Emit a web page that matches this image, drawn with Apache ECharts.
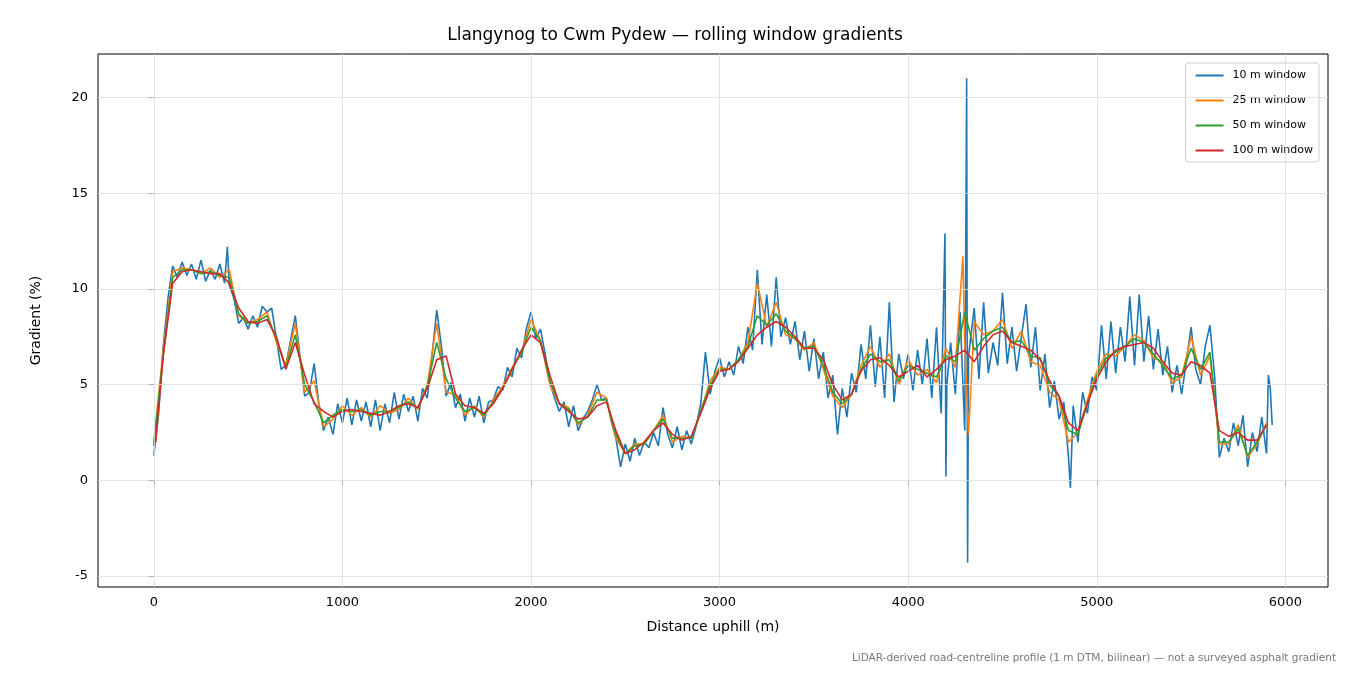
<!DOCTYPE html>
<html>
<head>
<meta charset="utf-8">
<script src="https://cdn.jsdelivr.net/npm/echarts@6/dist/echarts.min.js"></script>
<style>html,body{margin:0;padding:0;background:#fff}#chart{width:1350px;height:675px}</style>
</head>
<body>
<div id="chart"></div>
<script>
// 10 m window (noisy)
const dist10 = [0,25,50,75,100,125,150,175,200,225,250,275,300,325,350,375,390,400,425,450,475,500,525,550,575,600,625,650,675,700,725,750,775,800,825,850,875,900,925,950,975,1000,1025,1050,1075,1100,1125,1150,1175,1200,1225,1250,1275,1300,1325,1350,1375,1400,1425,1450,1475,1500,1525,1550,1575,1600,1625,1650,1675,1700,1725,1750,1775,1800,1825,1850,1875,1900,1925,1950,1975,2000,2025,2050,2075,2100,2125,2150,2175,2200,2225,2250,2275,2300,2325,2350,2375,2400,2425,2450,2475,2500,2525,2550,2575,2600,2625,2650,2675,2700,2725,2750,2775,2800,2825,2850,2875,2900,2925,2950,2975,3000,3025,3050,3075,3100,3125,3150,3175,3200,3225,3250,3275,3300,3325,3350,3375,3400,3425,3450,3475,3500,3525,3550,3575,3600,3625,3650,3675,3700,3725,3750,3775,3800,3825,3850,3875,3900,3925,3950,3975,4000,4025,4050,4075,4100,4125,4150,4175,4195,4200,4205,4225,4250,4275,4300,4310,4315,4320,4350,4375,4400,4425,4450,4475,4500,4525,4550,4575,4600,4625,4650,4675,4700,4725,4750,4775,4800,4825,4850,4860,4875,4900,4925,4950,4975,5000,5025,5050,5075,5100,5125,5150,5175,5200,5225,5250,5275,5300,5325,5350,5375,5400,5425,5450,5475,5500,5525,5550,5575,5600,5625,5650,5675,5700,5725,5750,5775,5800,5825,5850,5875,5900,5910,5920,5930];
const grad10 = [1.3,3.5,7,9.5,11.2,10.6,11.4,10.7,11.3,10.5,11.5,10.4,11.0,10.5,11.3,10.3,12.2,10.2,9.5,8.2,8.5,7.9,8.6,8.0,9.1,8.8,9.0,7.4,5.8,6.0,7.3,8.6,6.5,4.4,4.6,6.1,4.0,2.6,3.3,2.4,4.0,3.0,4.3,2.9,4.2,3.1,4.1,2.8,4.2,2.6,4.0,3.0,4.6,3.2,4.5,3.6,4.4,3.1,4.8,4.3,6.5,8.9,7.0,4.4,5.1,3.8,4.5,3.1,4.3,3.3,4.4,3.0,4.1,4.2,4.9,4.7,5.9,5.4,6.9,6.4,7.9,8.8,7.4,7.9,6.6,5.1,4.3,3.6,4.1,2.8,3.9,2.6,3.2,3.6,4.2,5.0,4.2,4.3,3.1,2.2,0.7,1.9,1.0,2.2,1.3,2.0,1.7,2.5,1.8,3.8,2.4,1.7,2.8,1.6,2.6,1.9,2.8,4.0,6.7,4.5,5.7,6.4,5.4,6.2,5.5,7.0,6.1,8.0,6.8,11.0,7.1,9.7,7.0,10.6,7.5,8.5,7.1,8.3,6.3,7.8,5.7,7.4,5.3,6.7,4.3,5.5,2.4,4.8,3.3,5.6,4.6,7.1,5.3,8.1,4.9,7.5,4.3,9.3,4.1,6.6,5.3,6.6,4.7,6.8,5.0,7.4,4.3,8.0,3.5,12.9,0.2,5.0,7.2,4.5,8.8,2.6,21.0,-4.3,6.5,9.0,5.3,9.3,5.6,7.2,6.0,9.8,6.1,8.0,5.7,7.5,9.2,5.9,8.0,4.7,6.6,3.8,5.2,3.2,4.1,1.2,-0.4,3.9,2.0,4.6,3.5,5.4,4.7,8.1,5.3,8.3,5.6,8.0,6.2,9.6,6.0,9.7,6.2,8.6,5.8,7.9,5.5,7.0,4.6,6.0,4.5,6.2,8.0,5.8,5.0,7.0,8.1,5.4,1.2,2.2,1.5,3.0,1.8,3.4,0.7,2.5,1.5,3.3,1.4,5.5,4.8,2.9];

// 25 m window
const dist25 = [0,50,100,150,200,250,300,350,400,450,500,550,600,650,700,750,800,850,900,950,1000,1050,1100,1150,1200,1250,1300,1350,1400,1450,1500,1550,1600,1650,1700,1750,1800,1850,1900,1950,2000,2050,2100,2150,2200,2250,2300,2350,2400,2450,2500,2550,2600,2650,2700,2750,2800,2850,2900,2950,3000,3050,3100,3150,3200,3250,3300,3350,3400,3450,3500,3550,3600,3650,3700,3750,3800,3850,3900,3950,4000,4050,4100,4150,4200,4250,4290,4300,4320,4350,4400,4450,4500,4550,4600,4650,4700,4750,4800,4850,4900,4950,5000,5050,5100,5150,5200,5250,5300,5350,5400,5450,5500,5550,5600,5650,5700,5750,5800,5850,5900];
const grad25 = [2.0,6.8,10.9,11.1,11.0,10.8,11.1,10.6,11.0,8.6,8.2,8.4,8.8,7.2,6.0,8.2,4.6,5.2,2.8,3.2,3.9,3.4,3.8,3.3,3.9,3.5,3.7,4.3,3.7,5.0,8.2,4.6,4.5,3.4,3.9,3.3,4.2,4.9,5.9,6.7,8.4,7.3,5.0,4.0,3.8,2.9,3.4,4.6,4.3,2.2,1.4,1.9,1.9,2.6,3.4,2.0,2.3,2.2,3.6,5.2,5.9,5.8,6.3,7.2,10.3,8.0,9.3,7.6,7.4,6.8,7.2,5.8,4.4,3.8,4.5,6.0,7.0,5.9,6.6,5.0,6.3,5.5,5.8,5.1,6.9,5.9,11.7,7.0,2.4,8.3,7.6,7.8,8.4,6.9,7.8,6.2,6.0,4.6,4.2,2.0,2.5,4.2,5.7,6.6,6.5,7.0,7.6,7.3,6.4,6.2,5.1,5.4,7.5,5.5,6.5,1.9,1.9,2.9,1.2,1.9,3.0];

// 50 m window
const dist50 = [0,50,100,150,200,250,300,350,400,450,500,550,600,650,700,750,800,850,900,950,1000,1050,1100,1150,1200,1250,1300,1350,1400,1450,1500,1550,1600,1650,1700,1750,1800,1850,1900,1950,2000,2050,2100,2150,2200,2250,2300,2350,2400,2450,2500,2550,2600,2650,2700,2750,2800,2850,2900,2950,3000,3050,3100,3150,3200,3250,3300,3350,3400,3450,3500,3550,3600,3650,3700,3750,3800,3850,3900,3950,4000,4050,4100,4150,4200,4250,4300,4350,4400,4450,4500,4550,4600,4650,4700,4750,4800,4850,4900,4950,5000,5050,5100,5150,5200,5250,5300,5350,5400,5450,5500,5550,5600,5650,5700,5750,5800,5850,5900];
const grad50 = [1.8,6.6,10.6,11.0,11.0,10.8,10.9,10.7,10.6,8.7,8.2,8.3,8.6,7.4,5.9,7.6,5.0,4.1,3.0,3.4,3.7,3.6,3.7,3.4,3.6,3.6,3.8,4.1,3.8,4.9,7.2,5.3,4.3,3.6,3.8,3.4,4.1,4.8,5.8,6.7,8.0,7.3,5.2,4.0,3.7,3.0,3.3,4.2,4.2,2.4,1.4,1.8,1.9,2.6,3.2,2.2,2.2,2.2,3.6,5.0,5.8,5.8,6.3,7.0,8.6,8.1,8.7,7.8,7.4,6.9,7.0,6.0,4.6,4.0,4.5,5.8,6.6,6.2,6.3,5.2,6.0,5.8,5.6,5.4,6.5,6.2,8.8,6.8,7.4,7.8,8.0,7.2,7.3,6.5,6.4,5.0,4.4,2.6,2.4,4.0,5.5,6.4,6.7,7.0,7.4,7.2,6.6,6.0,5.3,5.5,6.9,5.8,6.7,2.0,2.0,2.7,1.3,2.0,2.9];

// 100 m window
const dist100 = [10,50,100,150,200,250,300,350,400,450,500,550,600,650,700,750,800,850,900,950,1000,1050,1100,1150,1200,1250,1300,1350,1400,1450,1500,1550,1600,1650,1700,1750,1800,1850,1900,1950,2000,2050,2100,2150,2200,2250,2300,2350,2400,2450,2500,2550,2600,2650,2700,2750,2800,2850,2900,2950,3000,3050,3100,3150,3200,3250,3300,3350,3400,3450,3500,3550,3600,3650,3700,3750,3800,3850,3900,3950,4000,4050,4100,4150,4200,4250,4300,4350,4400,4450,4500,4550,4600,4650,4700,4750,4800,4850,4900,4950,5000,5050,5100,5150,5200,5250,5300,5350,5400,5450,5500,5550,5600,5650,5700,5750,5800,5850,5900];
const grad100 = [2.0,6.5,10.3,10.9,11.0,10.9,10.8,10.8,10.3,9.0,8.3,8.2,8.4,7.5,5.8,7.2,5.5,4.0,3.6,3.3,3.6,3.7,3.6,3.5,3.4,3.6,3.9,4.0,3.8,4.8,6.3,6.5,4.5,3.9,3.8,3.5,4.0,4.8,5.8,6.8,7.6,7.2,5.5,4.0,3.6,3.2,3.3,3.9,4.1,2.6,1.4,1.6,2.0,2.6,3.0,2.4,2.1,2.3,3.5,4.8,5.7,5.8,6.2,6.9,7.6,8.0,8.3,8.0,7.5,6.9,6.9,6.3,5.0,4.2,4.5,5.7,6.3,6.4,6.0,5.4,5.7,6.0,5.4,5.8,6.3,6.5,6.8,6.2,7.0,7.6,7.8,7.2,7.0,6.8,6.3,5.2,4.4,3.0,2.6,4.0,5.3,6.2,6.8,7.0,7.1,7.2,6.9,6.2,5.6,5.5,6.2,6.0,5.6,2.6,2.3,2.5,2.1,2.1,2.9];

const xTicks = [0, 1000, 2000, 3000, 4000, 5000, 6000];
const yTicks = [-5, 0, 5, 10, 15, 20];

const pairs = (xs, ys) => xs.map((x, i) => [x, ys[i]]);
const font = 'DejaVu Sans';

const chart = echarts.init(document.getElementById('chart'));

function lineSeries(name, color, data) {
    return {
        name: name,
        type: 'line',
        data: data,
        showSymbol: false,
        symbol: 'none',
        lineStyle: { color: color, width: 1.6 },
        itemStyle: { color: color },
        z: 3
    };
}

// 网格线用 markLine 画，刻度由 customValues 指定
const gridLines = {
    type: 'line',
    data: [],
    silent: true,
    markLine: {
        silent: true,
        symbol: 'none',
        label: { show: false },
        lineStyle: { color: '#dcdcdc', type: 'solid', width: 0.8 },
        data: xTicks.map(v => ({ xAxis: v })).concat(yTicks.map(v => ({ yAxis: v })))
    },
    z: 1
};

chart.setOption({
    animation: false,
    backgroundColor: '#fff',
    title: {
        text: 'Llangynog to Cwm Pydew — rolling window gradients',
        left: 'center',
        top: 22,
        textStyle: { fontFamily: font, fontSize: 17, fontWeight: 'normal', color: '#000' }
    },
    graphic: [{
        type: 'text',
        right: 14,
        top: 653,
        style: {
            text: 'LiDAR-derived road-centreline profile (1 m DTM, bilinear) — not a surveyed asphalt gradient',
            fill: '#777',
            font: '10.5px DejaVu Sans'
        }
    }],
    legend: {
        orient: 'vertical',
        right: 31,
        top: 63,
        data: ['10 m window', '25 m window', '50 m window', '100 m window'],
        icon: 'rect',
        itemWidth: 28,
        itemHeight: 2,
        itemGap: 14,
        padding: [7, 6, 6, 10],
        borderColor: '#ccc',
        borderWidth: 1,
        borderRadius: 3,
        backgroundColor: '#fff',
        textStyle: { fontFamily: font, fontSize: 11, color: '#000', padding: [0, 0, 0, 4] }
    },
    grid: {
        left: 98, right: 22, top: 54, bottom: 88,
        show: true, borderColor: '#000', borderWidth: 1
    },
    xAxis: {
        type: 'value',
        min: -296, max: 6226,
        name: 'Distance uphill (m)',
        nameLocation: 'middle',
        nameGap: 33,
        nameTextStyle: { fontFamily: font, fontSize: 14, color: '#000' },
        axisLine: { show: false },
        axisTick: { show: true, customValues: xTicks, length: 5, lineStyle: { color: '#000' } },
        axisLabel: { customValues: xTicks, formatter: v => String(v), fontFamily: font, fontSize: 13, color: '#000', margin: 9 },
        splitLine: { show: false }
    },
    yAxis: {
        type: 'value',
        min: -5.57, max: 22.27,
        name: 'Gradient (%)',
        nameLocation: 'middle',
        nameGap: 55,
        nameTextStyle: { fontFamily: font, fontSize: 14, color: '#000' },
        axisLine: { show: false },
        axisTick: { show: true, customValues: yTicks, length: 5, lineStyle: { color: '#000' } },
        axisLabel: { customValues: yTicks, formatter: v => String(v), fontFamily: font, fontSize: 13, color: '#000', margin: 10 },
        splitLine: { show: false }
    },
    series: [
        gridLines,
        lineSeries('10 m window', '#1f77b4', pairs(dist10, grad10)),
        lineSeries('25 m window', '#ff7f0e', pairs(dist25, grad25)),
        lineSeries('50 m window', '#2ca02c', pairs(dist50, grad50)),
        lineSeries('100 m window', '#d62728', pairs(dist100, grad100))
    ]
});
</script>
</body>
</html>
